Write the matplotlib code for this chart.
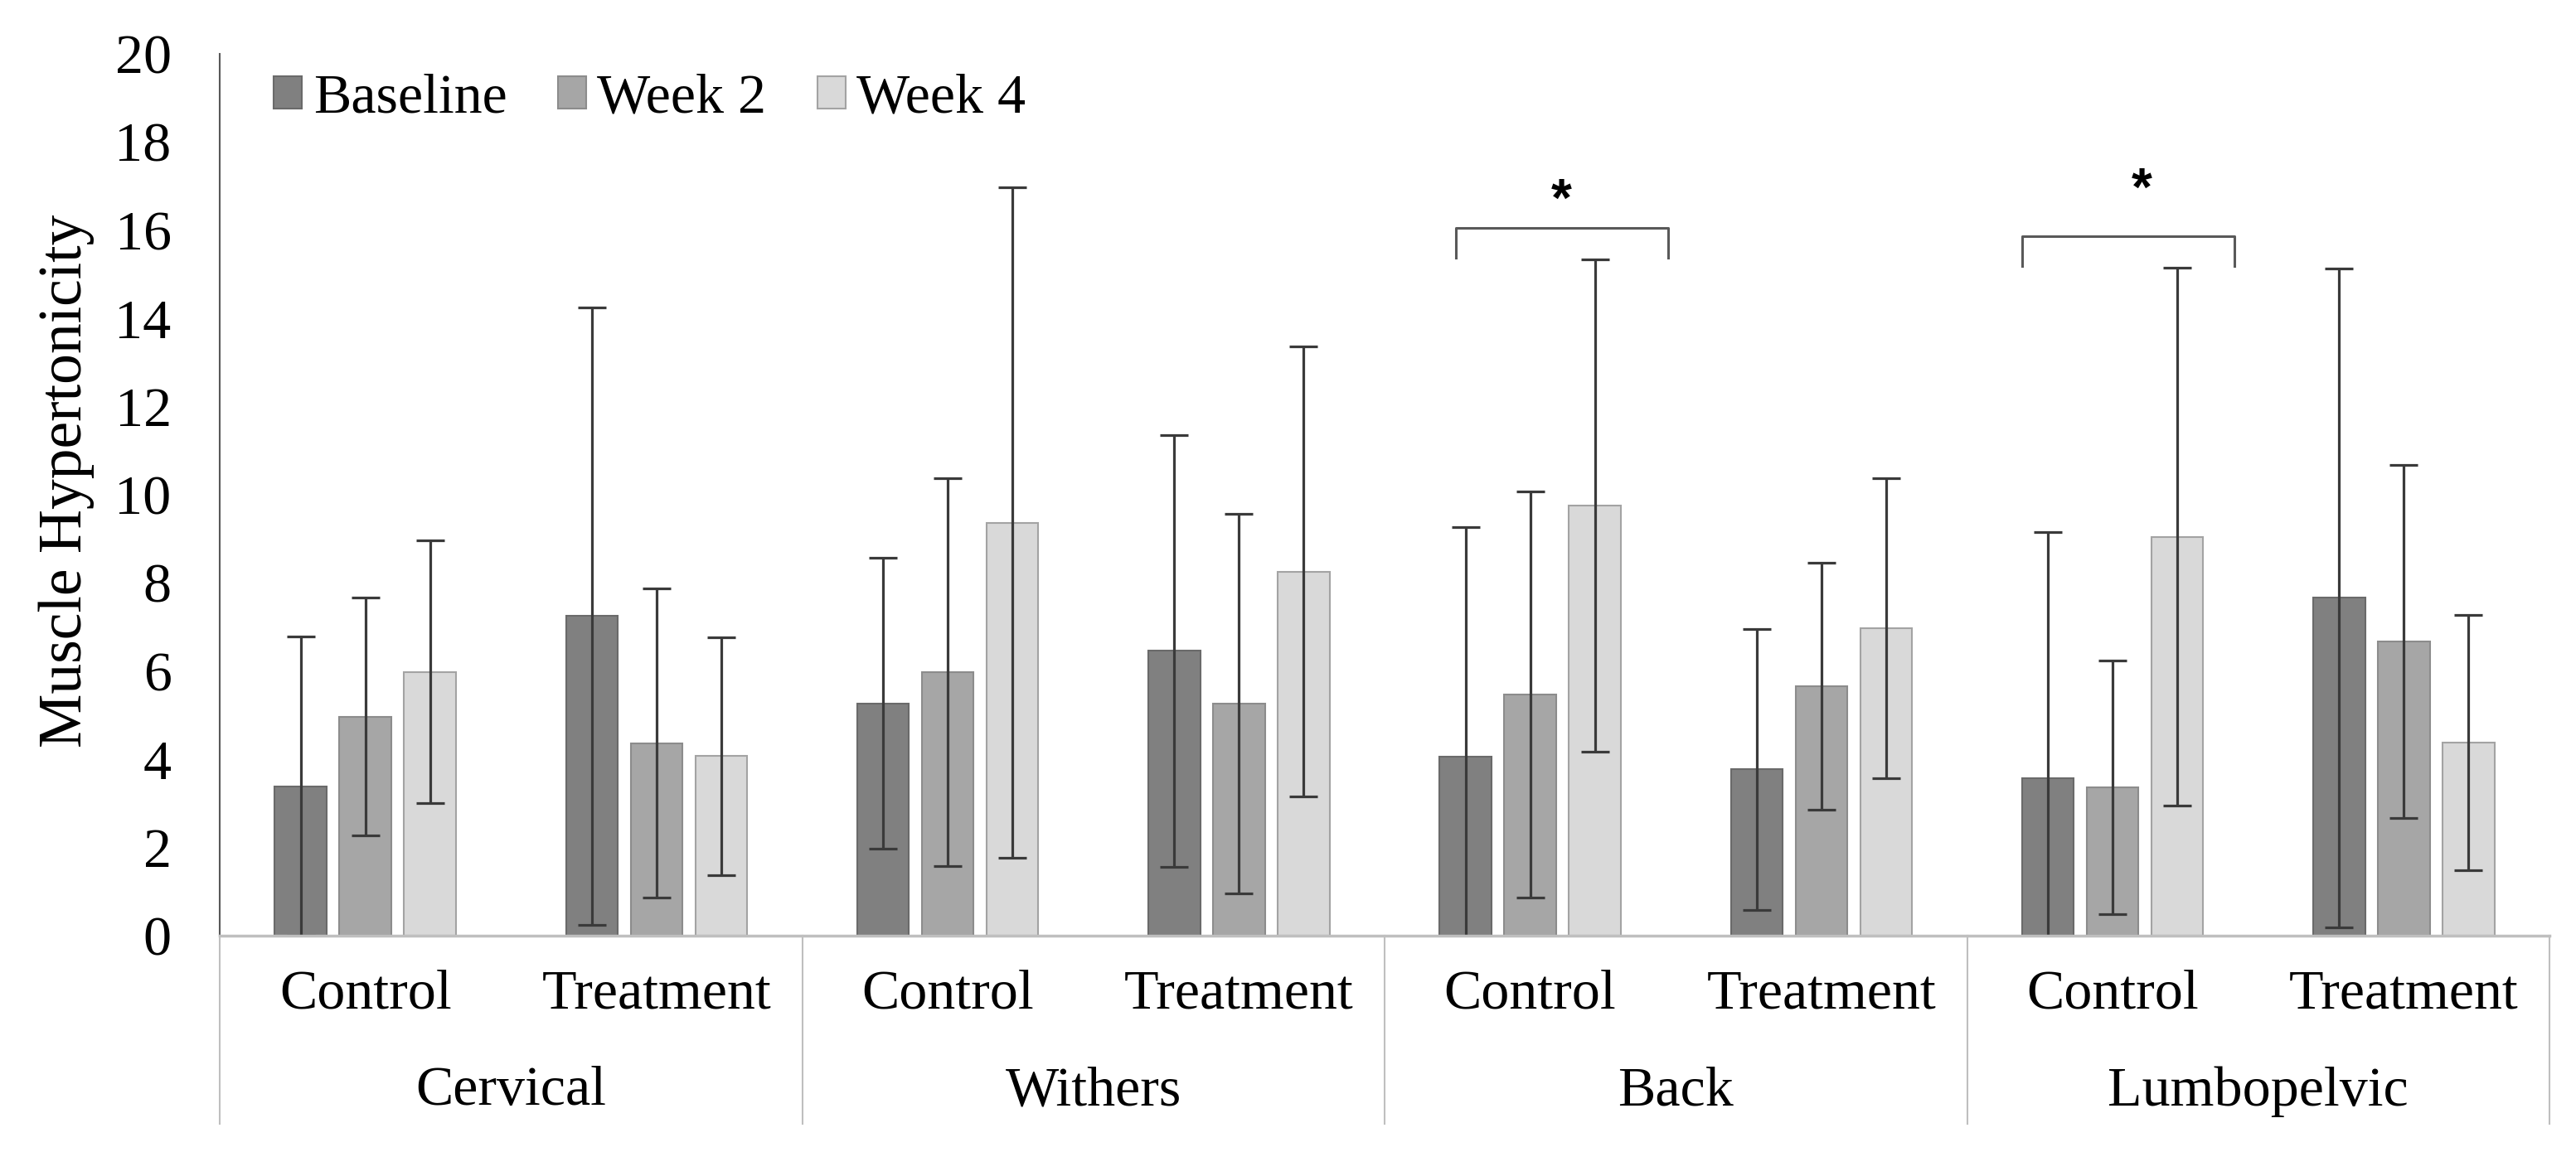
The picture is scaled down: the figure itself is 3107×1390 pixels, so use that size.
import matplotlib.pyplot as plt
import numpy as np

# categories
regions = ['Cervical', 'Withers', 'Back', 'Lumbopelvic']
groups = ['Control', 'Treatment']
series = ['Baseline', 'Week 2', 'Week 4']

# means and SDs, order: Cervical C/T, Withers C/T, Back C/T, Lumbopelvic C/T
baseline = [3.39, 7.25, 5.27, 6.46, 4.06, 3.77, 3.57, 7.66]
baseline_sd = [3.39, 7.0, 3.3, 4.9, 5.2, 3.18, 5.58, 7.48]
week2 = [4.97, 4.37, 5.97, 5.26, 5.47, 5.66, 3.37, 6.67]
week2_sd = [2.7, 3.5, 4.4, 4.3, 4.6, 2.8, 2.88, 4.0]
week4 = [5.98, 4.07, 9.37, 8.26, 9.76, 6.97, 9.05, 4.38]
week4_sd = [2.98, 2.7, 7.6, 5.1, 5.58, 3.4, 6.1, 2.89]

# significance brackets: (category, left offset, right offset, leg bottom, top, star x, star y)
brackets = [(4, -0.255, 0.474, 15.37, 16.05, 4.106, 16.63),
            (6, -0.311, 0.418, 15.19, 15.87, 6.099, 16.88)]

W, H = 3107, 1390
SERIF = 'Liberation Serif'

fig = plt.figure(figsize=(W / 100, H / 100), dpi=100)
x0, x1, y0, y20 = 265, 3075, 1129, 65
ax = fig.add_axes([x0 / W, 1 - y0 / H, (x1 - x0) / W, (y0 - y20) / H])

means = [baseline, week2, week4]
sds = [baseline_sd, week2_sd, week4_sd]
fills = ['#808080', '#a6a6a6', '#d9d9d9']
edges = ['#6a6a6a', '#8c8c8c', '#a3a3a3']

x = np.arange(len(baseline))
step = 0.222
width = 0.178
for i, (m, s) in enumerate(zip(means, sds)):
    xi = x + (i - 1) * step
    ax.bar(xi, m, width, color=fills[i], edgecolor=edges[i], linewidth=1.5,
           label=series[i], zorder=1)
    ax.errorbar(xi, m, yerr=s, fmt='none', ecolor='#3a3a3a', elinewidth=2.3,
                capsize=12.5, capthick=2.3, zorder=2)

ax.set_xlim(-0.5, len(baseline) - 0.5)
ax.set_ylim(0, 20)
ax.set_yticks(np.arange(0, 21, 2))
ax.set_yticklabels([str(v) for v in range(0, 21, 2)], fontfamily=SERIF, fontsize=49)
ax.tick_params(axis='y', length=0, pad=42)
ax.set_xticks([])

for side in ['top', 'right']:
    ax.spines[side].set_visible(False)
ax.spines['left'].set_color('#595959')
ax.spines['left'].set_linewidth(1.5)
ax.spines['bottom'].set_color('#bfbfbf')
ax.spines['bottom'].set_linewidth(2.5)

# category axis labels below
tr = ax.get_xaxis_transform()
y_sub = (y0 - 1200) / (y0 - y20)
y_grp = (y0 - 1317) / (y0 - y20)
y_end = (y0 - 1356) / (y0 - y20)
labels = [g for r in regions for g in groups]
for xi, lab in zip(x, labels):
    ax.text(xi, y_sub, lab, transform=tr, ha='center', va='center',
            fontfamily=SERIF, fontsize=49)
for k, r in enumerate(regions):
    ax.text(2 * k + 0.5, y_grp, r, transform=tr, ha='center', va='center',
            fontfamily=SERIF, fontsize=49)
for k in range(len(regions) + 1):
    ax.plot([2 * k - 0.5] * 2, [0, y_end], transform=tr, color='#bfbfbf',
            lw=1.5, clip_on=False, zorder=3)

# significance brackets
for c, lo, hi, yb, yt, sx, sy in brackets:
    ax.plot([c + lo, c + lo, c + hi, c + hi], [yb, yt, yt, yb], color='#595959',
            lw=2.2, solid_joinstyle='round', clip_on=False)
    ax.text(sx, sy, '*', ha='center', va='center',
            fontfamily='Liberation Sans', fontsize=46, fontweight='bold')

ax.legend(loc='center left', bbox_to_anchor=(330 / W, 1 - 119 / H),
          bbox_transform=fig.transFigure, ncol=3, frameon=False,
          prop={'family': SERIF, 'size': 49}, borderpad=0, borderaxespad=0,
          handlelength=0.5, handleheight=0.5, handletextpad=0.2,
          columnspacing=0.9)

fig.text(80 / W, 1 - 580 / H, 'Muscle Hypertonicity', rotation=90, ha='center',
         va='center', fontfamily=SERIF, fontsize=53)

fig.savefig('out.png', dpi=100)
